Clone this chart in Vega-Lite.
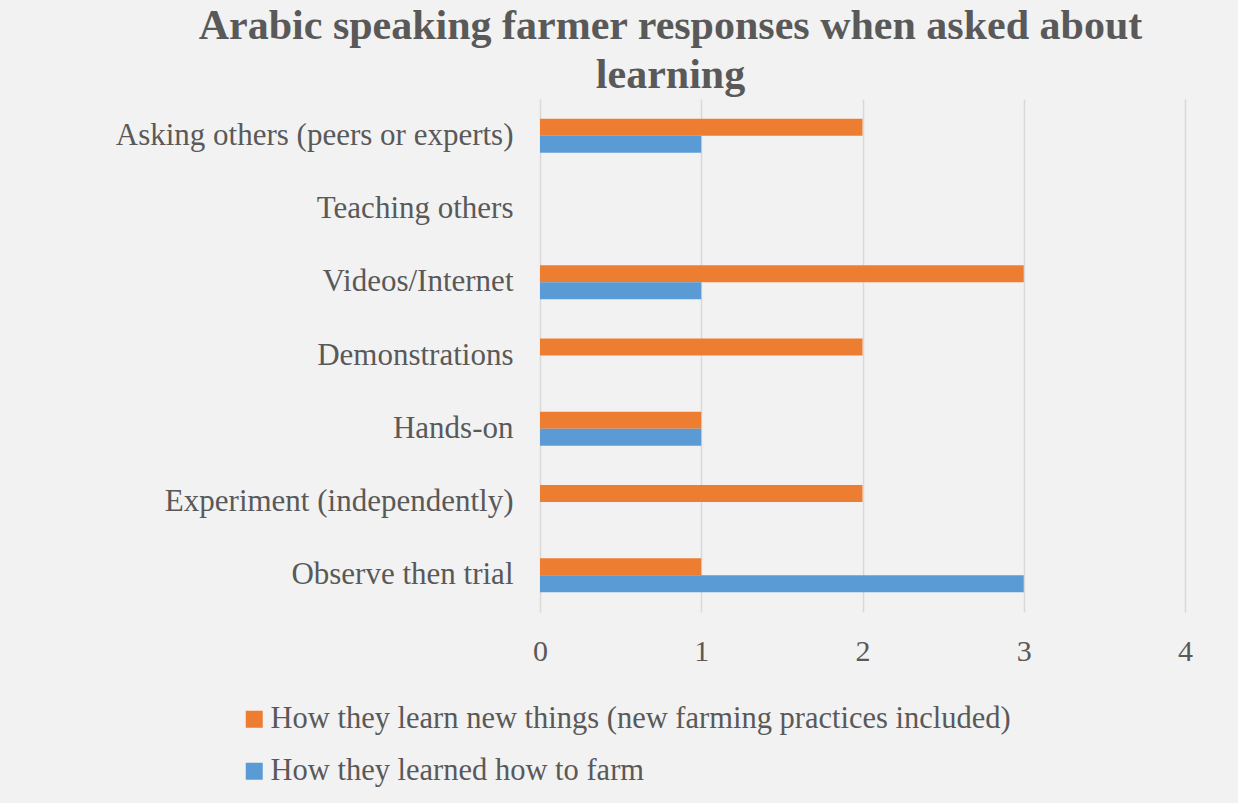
{
  "$schema": "https://vega.github.io/schema/vega-lite/v6.json",
  "autosize": "none",
  "width": 645,
  "height": 513,
  "padding": {"left": 540, "top": 99, "right": 53, "bottom": 191},
  "background": "#f2f2f2",
  "title": {
    "text": ["Arabic speaking farmer responses when asked about", "learning"],
    "font": "Liberation Serif",
    "fontSize": 42,
    "fontWeight": "bold",
    "color": "#595959",
    "anchor": "middle",
    "frame": "group",
    "dx": -192,
    "lineHeight": 49,
    "offset": 2
  },
  "data": {
    "values": [
      {"category": "Asking others (peers or experts)", "series": "How they learn new things (new farming practices included)", "value": 2},
      {"category": "Asking others (peers or experts)", "series": "How they learned how to farm", "value": 1},
      {"category": "Teaching others", "series": "How they learn new things (new farming practices included)", "value": 0},
      {"category": "Teaching others", "series": "How they learned how to farm", "value": 0},
      {"category": "Videos/Internet", "series": "How they learn new things (new farming practices included)", "value": 3},
      {"category": "Videos/Internet", "series": "How they learned how to farm", "value": 1},
      {"category": "Demonstrations", "series": "How they learn new things (new farming practices included)", "value": 2},
      {"category": "Demonstrations", "series": "How they learned how to farm", "value": 0},
      {"category": "Hands-on", "series": "How they learn new things (new farming practices included)", "value": 1},
      {"category": "Hands-on", "series": "How they learned how to farm", "value": 1},
      {"category": "Experiment (independently)", "series": "How they learn new things (new farming practices included)", "value": 2},
      {"category": "Experiment (independently)", "series": "How they learned how to farm", "value": 0},
      {"category": "Observe then trial", "series": "How they learn new things (new farming practices included)", "value": 1},
      {"category": "Observe then trial", "series": "How they learned how to farm", "value": 3}
    ]
  },
  "mark": {"type": "bar"},
  "encoding": {
    "y": {
      "field": "category",
      "type": "nominal",
      "sort": ["Asking others (peers or experts)", "Teaching others", "Videos/Internet", "Demonstrations", "Hands-on", "Experiment (independently)", "Observe then trial"],
      "scale": {"paddingInner": 0.536, "paddingOuter": 0.268},
      "axis": {
        "title": null,
        "domain": false,
        "ticks": false,
        "grid": false,
        "labelFont": "Liberation Serif",
        "labelFontSize": 31,
        "labelColor": "#595959",
        "labelPadding": 27,
        "labelLimit": 500
      }
    },
    "yOffset": {
      "field": "series",
      "type": "nominal",
      "sort": ["How they learn new things (new farming practices included)", "How they learned how to farm"]
    },
    "x": {
      "field": "value",
      "type": "quantitative",
      "scale": {"domain": [0, 4]},
      "axis": {
        "title": null,
        "domain": false,
        "ticks": false,
        "tickCount": 4,
        "grid": true,
        "gridColor": "#d9d9d9",
        "gridWidth": 1.5,
        "labelFlush": false,
        "labelFont": "Liberation Serif",
        "labelFontSize": 30,
        "labelColor": "#595959",
        "labelPadding": 24
      }
    },
    "color": {
      "field": "series",
      "type": "nominal",
      "sort": ["How they learn new things (new farming practices included)", "How they learned how to farm"],
      "scale": {"range": ["#ed7d31", "#5b9bd5"]},
      "legend": {
        "title": null,
        "orient": "none",
        "legendX": -301,
        "legendY": 605,
        "direction": "vertical",
        "symbolType": "square",
        "symbolSize": 289,
        "symbolStrokeWidth": 0,
        "labelFont": "Liberation Serif",
        "labelFontSize": 30.5,
        "labelColor": "#595959",
        "labelOffset": 1,
        "labelLimit": 900,
        "rowPadding": 21,
        "padding": 0
      }
    }
  },
  "config": {"view": {"stroke": null}}
}
